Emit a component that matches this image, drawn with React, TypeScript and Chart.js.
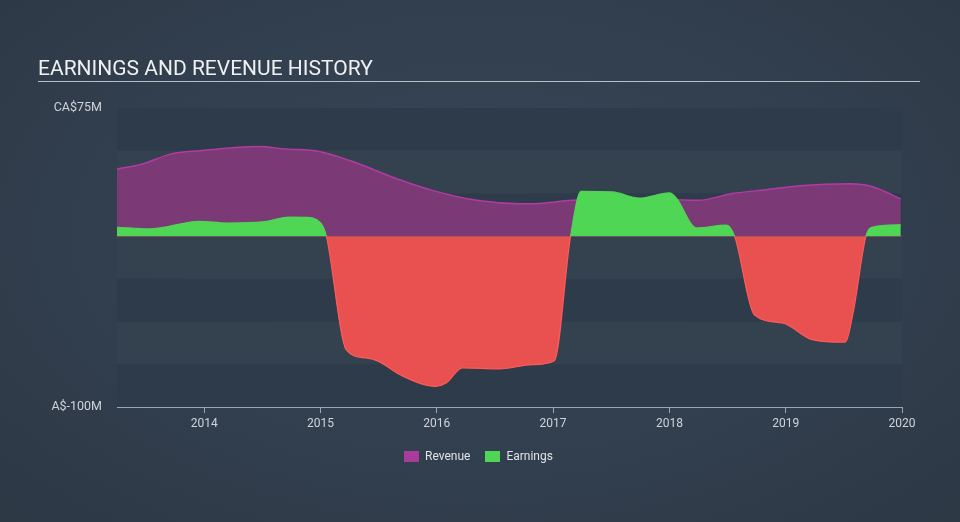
import React, { useEffect, useRef } from "react";
import { Chart, registerables } from "chart.js";

Chart.register(...registerables);

const revenueDates = [2013.25, 2013.47, 2013.71, 2013.96, 2014.47, 2014.7, 2014.99, 2015.27, 2015.68, 2015.96, 2016.36, 2016.71, 2016.82, 2017.16, 2017.68, 2018.25, 2018.54, 2018.83, 2019.12, 2019.55, 2019.74, 2019.99];
const revenueValues = [39.3, 42.2, 48, 50, 52.5, 51, 49.6, 43.8, 33, 26.8, 20.8, 19, 19, 21, 21.8, 21, 24.9, 27.2, 29.5, 30.7, 29.1, 21.8];

const earningsDates = [2013.25, 2013.53, 2013.96, 2014.19, 2014.5, 2014.73, 2014.87, 2015.0, 2015.05, 2015.22, 2015.39, 2015.5, 2015.68, 2015.99, 2016.08, 2016.22, 2016.54, 2016.82, 2017.01, 2017.15, 2017.24, 2017.51, 2017.74, 2018.0, 2018.06, 2018.23, 2018.49, 2018.56, 2018.73, 2018.97, 2019.23, 2019.51, 2019.58, 2019.69, 2019.74, 2019.99];
const earningsValues = [5.2, 4.2, 8.7, 7.7, 8.3, 11.2, 11, 7.7, 0, -66.4, -71.3, -73.3, -81, -87.9, -86, -77.1, -77.7, -75.2, -72.9, 0, 26.2, 25.9, 22.3, 25.3, 22.3, 4.8, 6.5, 0, -46, -50.8, -60.6, -62.1, -44.8, 0, 5.2, 6.6];

const yearTicks = [2014, 2015, 2016, 2017, 2018, 2019, 2020];
const yTickValues = [-100, -75, -50, -25, 0, 25, 50, 75];
const yTickLabels: Record<number, string> = { 75: "CA$75M", [-100]: "A$-100M" };

const GREEN = "#4fd655";
const RED = "#e95050";

const bandsPlugin = {
  id: "bands",
  beforeDatasetsDraw(chart: any) {
    const { ctx, chartArea, scales } = chart;
    const y = scales.y;
    ctx.save();
    for (let i = 0; i < yTickValues.length - 1; i++) {
      const hi = yTickValues[yTickValues.length - 1 - i];
      const lo = yTickValues[yTickValues.length - 2 - i];
      const top = y.getPixelForValue(hi);
      const bot = y.getPixelForValue(lo);
      ctx.fillStyle = i % 2 === 0 ? "#2e3b4a" : "#344250";
      ctx.fillRect(chartArea.left, top, chartArea.right - chartArea.left, bot - top);
    }
    ctx.restore();
  },
};

export default function App() {
  const ref = useRef<HTMLCanvasElement>(null);
  useEffect(() => {
    if (!ref.current) return;
    const chart = new Chart(ref.current, {
      type: "line",
      data: {
        datasets: [
          {
            label: "Earnings",
            order: 0,
            data: earningsDates.map((d, i) => ({ x: d, y: earningsValues[i] })),
            borderWidth: 1.2,
            borderColor: GREEN,
            segment: {
              borderColor: (c: any) => ((c.p0.parsed.y + c.p1.parsed.y) / 2 >= 0 ? GREEN : "#ff5a5a"),
            },
            fill: { target: "origin", above: GREEN, below: RED },
            pointRadius: 0,
            cubicInterpolationMode: "monotone",
          } as any,
          {
            label: "Revenue",
            order: 1,
            data: revenueDates.map((d, i) => ({ x: d, y: revenueValues[i] })),
            borderWidth: 1.5,
            borderColor: "#b23aa3",
            backgroundColor: "#7b3a76",
            fill: "origin",
            pointRadius: 0,
            cubicInterpolationMode: "monotone",
          } as any,
        ],
      },
      options: {
        animation: false,
        responsive: false,
        maintainAspectRatio: false,
        layout: { padding: { left: 0, right: 58, top: 108, bottom: 0 } },
        plugins: { legend: { display: false }, tooltip: { enabled: false } },
        scales: {
          x: {
            type: "linear",
            min: 2013.25,
            max: 2020,
            afterBuildTicks: (s: any) => {
              s.ticks = yearTicks.map((v) => ({ value: v }));
            },
            afterFit: (s: any) => {
              s.height = 115;
            },
            ticks: {
              color: "#d0d4da",
              font: { family: "Roboto", size: 12 },
              padding: 4,
              maxRotation: 0,
              callback: (v: any) => String(v),
            },
            grid: { drawOnChartArea: false, drawTicks: true, tickLength: 6, color: "#9aa6b3" },
            border: { display: true, color: "#9aa6b3", width: 1 },
          },
          y: {
            min: -100,
            max: 75,
            afterBuildTicks: (s: any) => {
              s.ticks = yTickValues.map((v) => ({ value: v }));
            },
            afterFit: (s: any) => {
              s.width = 117;
            },
            ticks: {
              color: "#d0d4da",
              font: { family: "Roboto", size: 12.5 },
              padding: 15,
              callback: (v: any) => yTickLabels[v] ?? "",
            },
            grid: {
              drawTicks: false,
              color: (c: any) => (c.tick && c.tick.value === 0 ? "#f3dbe6" : "rgba(0,0,0,0)"),
              lineWidth: 1,
            },
            border: { display: false },
          },
        },
      },
      plugins: [bandsPlugin],
    } as any);
    return () => chart.destroy();
  }, []);

  return (
    <div
      style={{
        position: "fixed",
        left: 0,
        top: 0,
        width: 960,
        height: 522,
        background: "radial-gradient(ellipse at 50% 45%, #37475a 0%, #323f4e 55%, #2d3845 100%)",
        fontFamily: "Roboto, sans-serif",
        overflow: "hidden",
      }}
    >
      <canvas ref={ref} width={960} height={522} style={{ position: "absolute", left: 0, top: 0, width: 960, height: 522 }} />
      <div style={{ position: "absolute", left: 38, top: 56, fontSize: 21, color: "#eef0f2", letterSpacing: 0, lineHeight: "24px" }}>
        EARNINGS AND REVENUE HISTORY
      </div>
      <div style={{ position: "absolute", left: 38, top: 81, width: 882, height: 1, background: "#b8bec6" }} />
      <div
        style={{
          position: "absolute",
          left: 404,
          top: 449,
          display: "flex",
          alignItems: "center",
          fontSize: 12,
          color: "#e0e3e7",
          whiteSpace: "nowrap",
        }}
      >
        <span style={{ display: "inline-block", width: 15, height: 11, background: "#a93c9a", marginRight: 6 }} />
        <span style={{ marginRight: 15 }}>Revenue</span>
        <span style={{ display: "inline-block", width: 15, height: 11, background: GREEN, marginRight: 6 }} />
        <span>Earnings</span>
      </div>
    </div>
  );
}
